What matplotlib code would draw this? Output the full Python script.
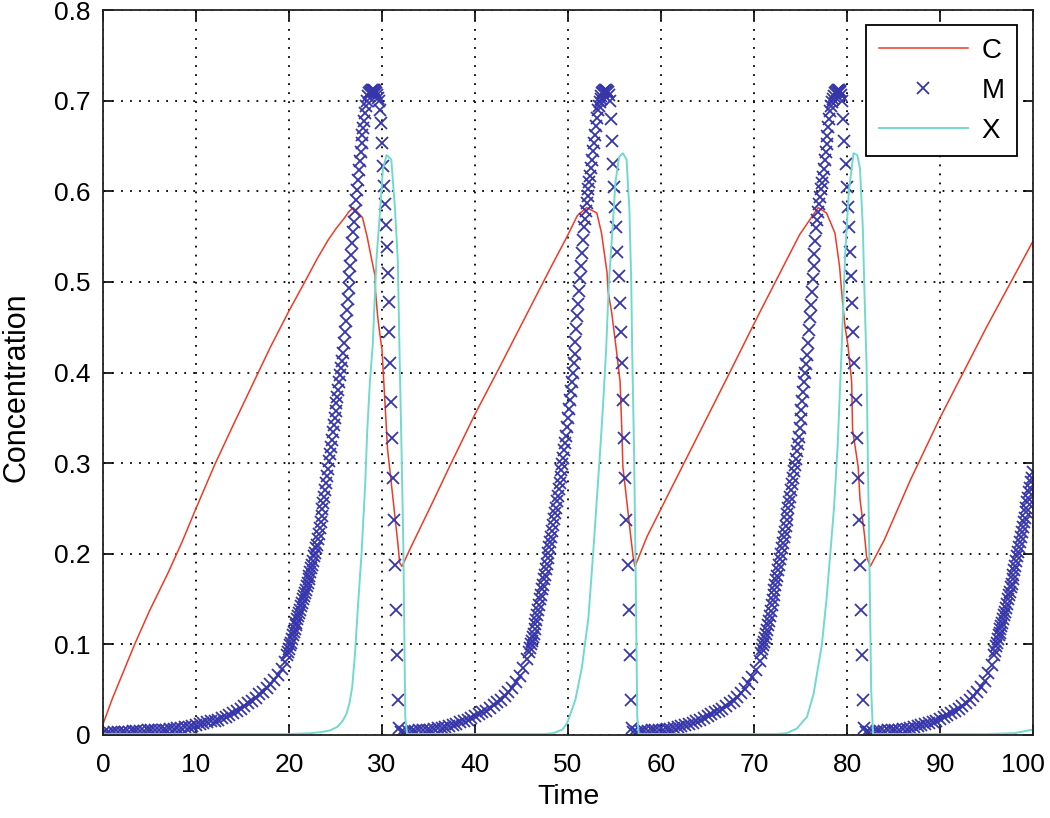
import numpy as np
import matplotlib
matplotlib.use("Agg")
import matplotlib.pyplot as plt
import matplotlib.transforms as mtransforms

plt.rcParams['font.family'] = ['Liberation Sans', 'DejaVu Sans']

# C (cyclin) - red line, vertices
c_time = [0, 1, 2, 3.4, 5, 7, 8.5, 10, 12, 14, 16, 18, 20, 21.7, 23, 24.2, 25, 26, 26.4, 26.9,
          27.9, 28.4, 28.9, 29.25, 29.3, 29.55, 29.75, 30.0, 30.3, 30.6, 31.0, 31.4, 31.7, 31.9, 32.15,
          33.0, 35.5, 37.3, 40, 42.7, 45, 48.1, 49.9, 51.0, 52.0,
          53.1, 53.6, 54.2, 54.3, 54.7, 55.2, 55.6, 55.8, 55.9, 56.3, 56.7, 57.0, 57.2,
          58.5, 61.0, 64, 67, 70.6, 72.8, 74.9, 76.9,
          77.8, 78.7, 79.2, 79.5, 79.8, 80.1, 80.5, 80.6, 81.2, 81.4, 81.9, 82.1, 82.5,
          84, 86.8, 90, 95, 100]
c_conc = [0.012, 0.04, 0.065, 0.1, 0.137, 0.179, 0.213, 0.25, 0.298, 0.342, 0.385, 0.428, 0.468, 0.5, 0.525, 0.546, 0.558, 0.571, 0.577, 0.582,
          0.571, 0.55, 0.524, 0.507, 0.49, 0.46, 0.444, 0.425, 0.37, 0.315, 0.278, 0.24, 0.212, 0.19, 0.186,
          0.205, 0.258, 0.297, 0.354, 0.407, 0.453, 0.515, 0.55, 0.573, 0.582,
          0.576, 0.554, 0.51, 0.49, 0.466, 0.425, 0.39, 0.333, 0.296, 0.26, 0.223, 0.197, 0.186,
          0.219, 0.27, 0.331, 0.392, 0.466, 0.51, 0.552, 0.582,
          0.576, 0.554, 0.517, 0.48, 0.45, 0.43, 0.39, 0.337, 0.296, 0.26, 0.219, 0.197, 0.186,
          0.215, 0.281, 0.35, 0.45, 0.545]

# X - cyan line
x_time = [0, 20, 22.3, 23.3, 24.4, 25.2, 25.8, 26.2, 26.5, 26.8, 27.1, 27.4, 27.8, 28.2, 28.4, 28.7, 29.0,
          29.4, 29.8, 30.1, 30.5, 31.0, 31.4, 31.7, 31.9, 32.1, 32.3, 32.5, 32.7,
          45, 47.3, 48.4, 49.4, 49.9, 50.8, 51.5, 52.2, 52.7, 53.1, 53.5, 53.8, 54.1, 54.4, 54.8, 55.1,
          55.5, 55.9, 56.3, 56.6, 56.8, 56.9, 57.1, 57.25, 57.45, 57.6,
          70, 72.3, 73.5, 74.6, 75.7, 76.4, 77.3, 77.8, 78.2, 78.6, 79.0, 79.4, 79.8, 80.2, 80.7,
          81.1, 81.4, 81.7, 81.9, 82.1, 82.25, 82.4, 82.6, 82.8,
          95, 98, 100]
x_conc = [0.001, 0.001, 0.002, 0.003, 0.005, 0.009, 0.016, 0.024, 0.035, 0.053, 0.09, 0.14, 0.2, 0.278, 0.333, 0.39, 0.43,
          0.524, 0.58, 0.625, 0.64, 0.635, 0.58, 0.524, 0.414, 0.315, 0.204, 0.02, 0.001,
          0.001, 0.001, 0.002, 0.006, 0.013, 0.039, 0.075, 0.13, 0.2, 0.26, 0.32, 0.37, 0.425, 0.5, 0.56, 0.61,
          0.638, 0.642, 0.635, 0.58, 0.5, 0.425, 0.315, 0.2, 0.02, 0.001,
          0.001, 0.001, 0.002, 0.007, 0.02, 0.045, 0.1, 0.15, 0.2, 0.25, 0.32, 0.42, 0.53, 0.6, 0.642,
          0.64, 0.625, 0.56, 0.48, 0.41, 0.3, 0.2, 0.05, 0.001,
          0.001, 0.002, 0.006]

# M - blue x markers, sampled in pieces: (start time, time step, values)
m_cycle1 = [
    (0.0, 0.4, [0.002, 0.002, 0.002, 0.003, 0.003, 0.003, 0.003, 0.003, 0.004, 0.004,
                0.004, 0.004, 0.005, 0.005, 0.005, 0.006, 0.006, 0.006, 0.007, 0.007,
                0.008, 0.008, 0.009, 0.009, 0.010, 0.011, 0.012, 0.013, 0.014, 0.015,
                0.016, 0.017, 0.019, 0.020, 0.022, 0.024, 0.026, 0.029, 0.032, 0.035,
                0.038, 0.041, 0.045, 0.048, 0.052, 0.056, 0.061, 0.066, 0.073, 0.081]),
    (19.8, 0.1, [0.088, 0.092, 0.095, 0.099, 0.102, 0.106, 0.110, 0.114, 0.117, 0.121,
                 0.124, 0.128, 0.131, 0.135, 0.138, 0.142, 0.146, 0.150, 0.153, 0.157,
                 0.160, 0.164, 0.168, 0.172, 0.176, 0.180, 0.184, 0.188, 0.192, 0.197,
                 0.201, 0.206, 0.210, 0.216, 0.222, 0.228, 0.235, 0.242, 0.249, 0.256,
                 0.263, 0.270]),
    (24.0, 0.1, [0.278, 0.286, 0.294, 0.302, 0.310, 0.318, 0.326, 0.334, 0.342, 0.350,
                 0.358, 0.366, 0.373, 0.381, 0.389, 0.397, 0.405, 0.413, 0.421, 0.433,
                 0.445, 0.457, 0.469, 0.481, 0.493, 0.505, 0.517, 0.530, 0.543, 0.555,
                 0.566, 0.578, 0.590, 0.601, 0.612, 0.623, 0.633, 0.643, 0.653, 0.662,
                 0.670, 0.678, 0.686, 0.694, 0.700, 0.705, 0.708, 0.710, 0.711, 0.712,
                 0.712, 0.712, 0.711, 0.710, 0.708, 0.706, 0.703, 0.700]),
    (29.8, 0.1, [0.690, 0.675, 0.653, 0.628, 0.606, 0.586, 0.563, 0.539, 0.510, 0.478,
                 0.445, 0.410, 0.368, 0.328, 0.284, 0.237, 0.188, 0.138, 0.088, 0.039, 0.008]),
]

m_cycle2 = [
    (32.0, 0.4, [0.003, 0.003, 0.004, 0.004, 0.004, 0.005, 0.005, 0.006, 0.006, 0.007,
                 0.008, 0.008, 0.009, 0.010, 0.011, 0.012, 0.014, 0.015, 0.017, 0.019,
                 0.021, 0.023, 0.025, 0.027, 0.030, 0.033, 0.036, 0.039, 0.043, 0.047,
                 0.052, 0.058, 0.065, 0.074, 0.084]),
    (45.8, 0.1, [0.092, 0.096, 0.100, 0.104, 0.108, 0.112, 0.117, 0.122, 0.127, 0.132,
                 0.138, 0.144, 0.150, 0.155, 0.161, 0.166, 0.172, 0.177, 0.183, 0.189,
                 0.195, 0.201, 0.207, 0.213, 0.219, 0.225, 0.232, 0.238, 0.245, 0.251,
                 0.258, 0.264, 0.271, 0.278, 0.285, 0.292, 0.299, 0.306, 0.314, 0.322]),
    (49.8, 0.1, [0.330, 0.340, 0.350, 0.360, 0.370, 0.380, 0.390, 0.400, 0.410, 0.420,
                 0.434, 0.448, 0.462, 0.476, 0.490, 0.504, 0.518, 0.532, 0.546, 0.560,
                 0.569, 0.578, 0.587, 0.595, 0.603, 0.610, 0.617, 0.626, 0.635, 0.644,
                 0.653, 0.662, 0.672, 0.681, 0.690, 0.694, 0.698, 0.702, 0.705, 0.708,
                 0.710, 0.711, 0.712, 0.712, 0.711, 0.709, 0.706, 0.700]),
    (54.6, 0.12, [0.680, 0.655, 0.630, 0.605, 0.583, 0.560, 0.533, 0.506, 0.477, 0.445,
                  0.410, 0.370, 0.328, 0.284, 0.237, 0.188, 0.138, 0.088, 0.039, 0.008]),
]

m_cycle3 = [
    (57.0, 0.4, [0.003, 0.003, 0.004, 0.004, 0.004, 0.005, 0.005, 0.006, 0.006, 0.007,
                 0.007, 0.008, 0.009, 0.010, 0.011, 0.012, 0.013, 0.015, 0.017, 0.019,
                 0.021, 0.023, 0.025, 0.027, 0.029, 0.032, 0.035, 0.038, 0.042, 0.046,
                 0.051, 0.057, 0.064, 0.072, 0.082]),
    (70.8, 0.1, [0.090, 0.095, 0.099, 0.103, 0.107, 0.111, 0.116, 0.121, 0.126, 0.131,
                 0.137, 0.143, 0.149, 0.154, 0.160, 0.165, 0.171, 0.176, 0.182, 0.188,
                 0.194, 0.200, 0.206, 0.212, 0.218, 0.224, 0.231, 0.237, 0.244, 0.250,
                 0.257, 0.263, 0.270, 0.277, 0.284, 0.291, 0.298, 0.305, 0.313, 0.321]),
    (74.8, 0.1, [0.329, 0.339, 0.349, 0.359, 0.369, 0.379, 0.389, 0.399, 0.409, 0.419,
                 0.433, 0.447, 0.461, 0.475, 0.489, 0.503, 0.517, 0.531, 0.545, 0.559,
                 0.568, 0.577, 0.586, 0.594, 0.602, 0.609, 0.616, 0.625, 0.634, 0.643,
                 0.652, 0.661, 0.671, 0.680, 0.689, 0.694, 0.698, 0.702, 0.705, 0.708,
                 0.710, 0.711, 0.712, 0.712, 0.711, 0.709, 0.706, 0.700]),
    (79.6, 0.12, [0.680, 0.655, 0.630, 0.605, 0.583, 0.560, 0.533, 0.506, 0.477, 0.445,
                  0.410, 0.370, 0.328, 0.284, 0.237, 0.188, 0.138, 0.088, 0.039, 0.008]),
]

m_tail = [
    (82.0, 0.4, [0.003, 0.003, 0.003, 0.004, 0.004, 0.004, 0.005, 0.005, 0.006, 0.006,
                 0.007, 0.007, 0.008, 0.009, 0.010, 0.011, 0.012, 0.013, 0.014, 0.016,
                 0.018, 0.020, 0.022, 0.024, 0.026, 0.029, 0.032, 0.035, 0.039, 0.043,
                 0.048, 0.053, 0.060, 0.068, 0.077]),
    (95.8, 0.1, [0.088, 0.093, 0.098, 0.102, 0.106, 0.110, 0.113, 0.117, 0.120, 0.124,
                 0.128, 0.132, 0.136, 0.140, 0.145, 0.150, 0.154, 0.158, 0.163, 0.167,
                 0.172, 0.177, 0.182, 0.187, 0.192, 0.197, 0.202, 0.207, 0.213, 0.218,
                 0.224, 0.229, 0.235, 0.240, 0.246, 0.251, 0.257, 0.262, 0.268, 0.273,
                 0.279, 0.284, 0.290]),
]

x_ticks = [0, 10, 20, 30, 40, 50, 60, 70, 80, 90, 100]
y_ticks = [0, 0.1, 0.2, 0.3, 0.4, 0.5, 0.6, 0.7, 0.8]
y_tick_labels = ['0', '0.1', '0.2', '0.3', '0.4', '0.5', '0.6', '0.7', '0.8']

# join the M pieces
m_time = []
m_conc = []
for pieces in (m_cycle1, m_cycle2, m_cycle3, m_tail):
    for start, step, vals in pieces:
        m_time.extend(start + step * np.arange(len(vals)))
        m_conc.extend(vals)

fig = plt.figure(figsize=(10.5, 8.18), dpi=100)
ax = fig.add_axes([103 / 1050, 83 / 818, 930 / 1050, 725 / 818])

ax.plot(c_time, c_conc, color='#ee3b26', linewidth=1.1, label='C')
ax.plot(m_time, m_conc, linestyle='none', marker='x', markersize=8,
        markeredgewidth=1.3, color='#3636aa', label='M')
ax.plot(x_time, x_conc, color='#72d9cf', linewidth=1.4, label='X')

ax.set_xlim(0, 100)
ax.set_ylim(0, 0.8)
ax.set_xticks(x_ticks)
ax.set_yticks(y_ticks)
ax.set_yticklabels(y_tick_labels)
ax.grid(True, color='black', linestyle=(0, (1, 4)), linewidth=1.3)

ax.tick_params(direction='in', top=True, right=True, length=7, width=1.2, labelsize=19)
ax.tick_params(axis='x', pad=13)
ax.tick_params(axis='y', pad=9)
for spine in ax.spines.values():
    spine.set_linewidth(1.3)
    spine.set_color('#222222')

# the "100" label sits at the right edge; nudge it left so it stays inside
last = ax.get_xticklabels()[-1]
last.set_transform(last.get_transform() + mtransforms.ScaledTranslation(-10 / 100, 0, fig.dpi_scale_trans))

ax.set_xlabel('Time', fontsize=20.5, labelpad=5)
ax.set_ylabel('Concentration', fontsize=22)
ax.yaxis.set_label_coords(-0.077, 0.48)

leg = ax.legend(loc='upper right', bbox_to_anchor=(0.983, 0.979), borderaxespad=0,
                fontsize=20, handlelength=3.2, handletextpad=0.5, labelspacing=0.5,
                borderpad=0.45, fancybox=False, framealpha=1, edgecolor='black')
leg.get_frame().set_linewidth(1.3)

fig.savefig('out.png', dpi=100)
